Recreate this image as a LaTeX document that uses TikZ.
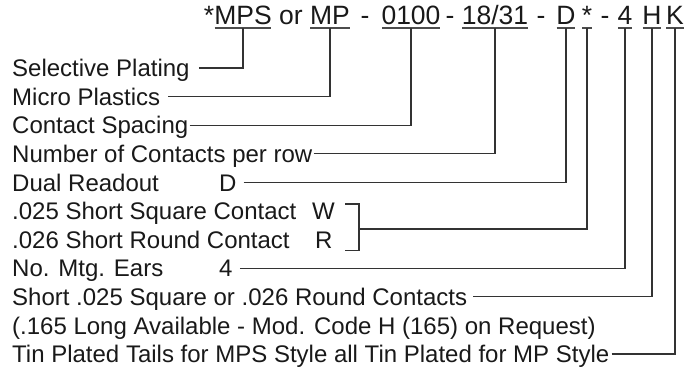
\documentclass[tikz,border=0pt]{standalone}
\usepackage{fontspec}
\setmainfont{Liberation Sans}
\usetikzlibrary{calc}
\begin{document}
\begin{tikzpicture}[x=1pt,y=1pt,
  lbl/.style={anchor=base west,inner sep=0pt,font=\fontsize{24}{28}\selectfont,text=black!90},
  hdr/.style={anchor=base,inner sep=0pt,font=\fontsize{26.5}{30}\selectfont,text=black!90},
  conn/.style={draw=black!80,line width=1.2pt},
  uline/.style={draw=black!70,line width=1.4pt}]
\useasboundingbox (0,0) rectangle (700,-373);
% ---------- header ----------
\node[hdr] (hA)   at (209,-24.5) {*};
\node[hdr] (hMPS) at (243,-24.5) {MPS};
\node[hdr] (hor)  at (291,-24.5) {or};
\node[hdr] (hMP)  at (330,-24.5) {MP};
\node[hdr] (hd1)  at (365,-24.5) {-};
\node[hdr] (hSp)  at (411,-24.5) {0100};
\node[hdr] (hd2)  at (450,-24.5) {-};
\node[hdr] (hNo)  at (495,-24.5) {18/31};
\node[hdr] (hd3)  at (541,-24.5) {-};
\node[hdr] (hD)   at (566,-24.5) {D};
\node[hdr] (hS)   at (587,-24.5) {*};
\node[hdr] (hd4)  at (605,-24.5) {-};
\node[hdr] (h4)   at (625,-24.5) {4};
\node[hdr] (hH)   at (652,-24.5) {H};
\node[hdr] (hK)   at (675,-24.5) {K};
\foreach \n in {hMPS,hMP,hSp,hNo,hD,hS,h4,hH,hK}{
  \draw[uline] ($(\n.base west)+(0.5,-3.5)$) -- ($(\n.base east)+(-0.5,-3.5)$);
  \coordinate (u\n) at ($(\n.base)+(0,-3.5)$);
}
% ---------- labels ----------
\node[lbl] (l0)  at (12,-76.6)  {Selective Plating};
\node[lbl] (l1)  at (12,-105.2) {Micro Plastics};
\node[lbl] (l2)  at (12,-133.8) {Contact Spacing};
\node[lbl] (l3)  at (12,-162.4) {Number of Contacts per row};
\node[lbl] (l4)  at (12,-191)   {Dual Readout};
\node[lbl] (l4c) at (219,-191)  {D};
\node[lbl] (l5)  at (12,-219.6) {.025 Short Square Contact};
\node[lbl] (l5c) at (312,-219.6) {W};
\node[lbl] (l6)  at (12,-248.2) {.026 Short Round Contact};
\node[lbl] (l6c) at (315,-248.2) {R};
\node[lbl] (l7)  at (12,-276.8) {No. Mtg. Ears};
\node[lbl] (l7c) at (219,-276.8) {4};
\node[lbl] (l8)  at (12,-305.4) {Short .025 Square or .026 Round Contacts};
\node[lbl] (l9)  at (12,-334)   {(.165 Long Available - Mod. Code H (165) on Request)};
\node[lbl] (l10) at (12,-362.6) {Tin Plated Tails for MPS Style all Tin Plated for MP Style};
% ---------- connectors ----------
\draw[conn] ($(l0.base east)+(9,8.6)$) -| (uhMPS);
\draw[conn] ($(l1.base east)+(8,8.6)$) -| (uhMP);
\draw[conn] ($(l2.base east)+(1,8.6)$) -| (uhSp);
\draw[conn] ($(l3.base east)+(1,8.6)$) -| (uhNo);
\draw[conn] ($(l4c.base east)+(7,8.6)$) -| (uhD);
% bracket for W / R
\coordinate (bt) at ($(l5c.base east)+(10,15.6)$);
\coordinate (bb) at ($(l6c.base east)+(12,-2.5)$);
\coordinate (bm) at (359,-229);
\draw[conn] (bt) -- (359,-204) -- (359,-250.7) -- (bb);
\draw[conn] (bm) -| (uhS);
\draw[conn] ($(l7c.base east)+(7,8.6)$) -| (uh4);
\draw[conn] ($(l8.base east)+(6,8.6)$) -| (uhH);
\draw[conn] ($(l10.base east)+(2,8.6)$) -| (uhK);
\end{tikzpicture}
\end{document}
